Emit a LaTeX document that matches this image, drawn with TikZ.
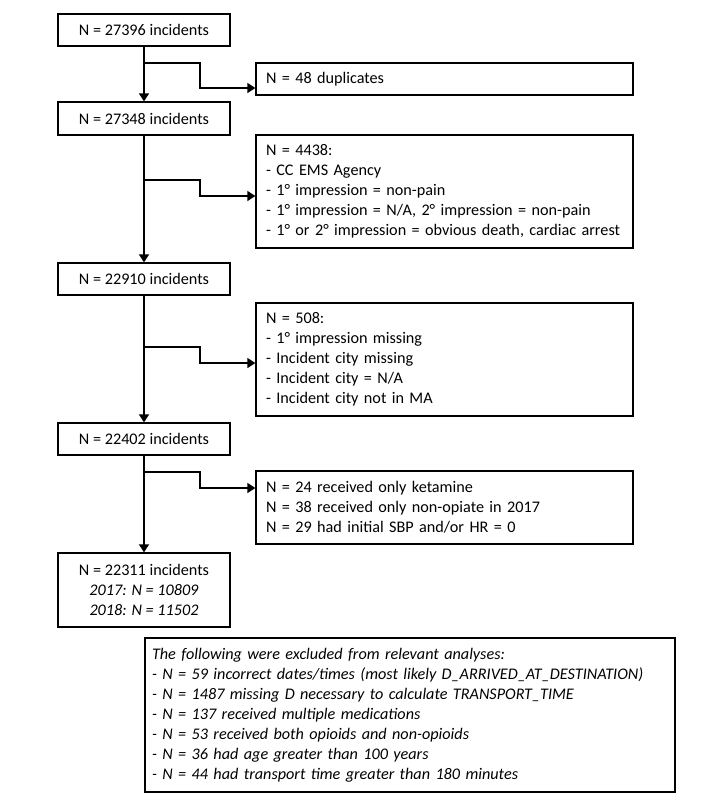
\documentclass[tikz,border=0pt]{standalone}
\usepackage{fontspec}
\setmainfont{Carlito}
\usetikzlibrary{arrows.meta}

\tikzset{
  box/.style={draw, line width=1.3pt, inner sep=0pt, font=\fontsize{16.2}{20}\selectfont},
  mainbox/.style={box, minimum width=172pt, align=center},
  sidebox/.style={box, text width=357pt, inner xsep=10pt, align=left},
  notebox/.style={box, text width=516pt, inner xsep=7pt, align=left, font=\fontsize{16.2}{20}\selectfont\itshape},
  arr/.style={line width=1.3pt, -{Triangle[length=8pt,width=10pt]}}
}

\begin{document}
\begin{tikzpicture}[x=1pt,y=-1pt]
  \useasboundingbox (0,0) rectangle (726,807);
  \node[mainbox, minimum height=32pt] (n1) at (144,30) {N = 27396 incidents};
  \node[mainbox, minimum height=33pt] (n2) at (144,118.5) {N = 27348 incidents};
  \node[mainbox, minimum height=32pt] (n3) at (144,279) {N = 22910 incidents};
  \node[mainbox, minimum height=32pt] (n4) at (144,439) {N = 22402 incidents};
  \node[mainbox, minimum height=74pt] (n5) at (144,590) {N = 22311 incidents\\\textit{2017: N = 10809}\\\textit{2018: N = 11502}};
  \node[sidebox, minimum height=32pt] (x1) at (444.5,79) {N = 48 duplicates};
  \node[sidebox, minimum height=113pt] (x2) at (444.5,191.5) {N = 4438:\\- CC EMS Agency\\- 1° impression = non-pain\\- 1° impression = N/A, 2° impression = non-pain\\- 1° or 2° impression = obvious death, cardiac arrest};
  \node[sidebox, minimum height=113pt] (x3) at (444.5,359.5) {N = 508:\\- 1° impression missing\\- Incident city missing\\- Incident city = N/A\\- Incident city not in MA};
  \node[sidebox, minimum height=73pt] (x4) at (444.5,507.5) {N = 24 received only ketamine\\N = 38 received only non-opiate in 2017\\N = 29 had initial SBP and/or HR = 0};
  \node[notebox, minimum height=154pt] (notes) at (410,715) {The following were excluded from relevant analyses:\\- N = 59 incorrect dates/times (most likely D\_ARRIVED\_AT\_DESTINATION)\\- N = 1487 missing D necessary to calculate TRANSPORT\_TIME\\- N = 137 received multiple medications\\- N = 53 received both opioids and non-opioids\\- N = 36 had age greater than 100 years\\- N = 44 had transport time greater than 180 minutes};
  \coordinate (b1) at (144,63);
  \coordinate (k1) at (200,88);
  \coordinate (b2) at (144,180);
  \coordinate (k2) at (200,196);
  \coordinate (b3) at (144,347);
  \coordinate (k3) at (200,363);
  \coordinate (b4) at (144,472);
  \coordinate (k4) at (200,488);
  \draw[arr] (n1) -- (n2);
  \draw[arr] (n2) -- (n3);
  \draw[arr] (n3) -- (n4);
  \draw[arr] (n4) -- (n5);
  \draw[arr] (b1) -| (k1) -- (k1 -| x1.west);
  \draw[arr] (b2) -| (k2) -- (k2 -| x2.west);
  \draw[arr] (b3) -| (k3) -- (k3 -| x3.west);
  \draw[arr] (b4) -| (k4) -- (k4 -| x4.west);
\end{tikzpicture}
\end{document}
